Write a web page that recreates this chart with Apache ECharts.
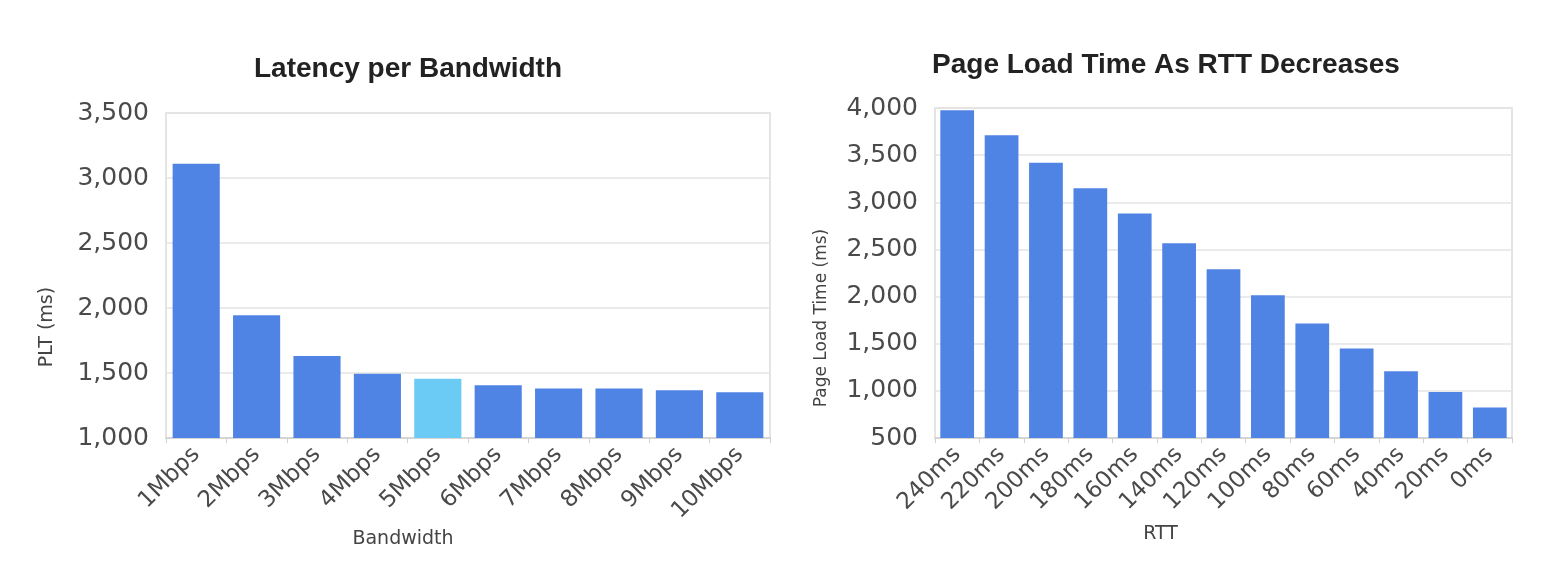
<!DOCTYPE html>
<html>
<head>
<meta charset="utf-8">
<script src="https://cdn.jsdelivr.net/npm/echarts@6/dist/echarts.min.js"></script>
<style>
html,body{margin:0;padding:0;background:#fff;}
#main{width:1560px;height:580px;}
</style>
</head>
<body>
<div id="main"></div>
<script>
// ---- data ----
const bwCategories = ['1Mbps','2Mbps','3Mbps','4Mbps','5Mbps','6Mbps','7Mbps','8Mbps','9Mbps','10Mbps'];
const bwValues = [3110, 1945, 1630, 1495, 1455, 1405, 1380, 1380, 1368, 1352];
const bwHighlightIndex = 4;
const rttCategories = ['240ms','220ms','200ms','180ms','160ms','140ms','120ms','100ms','80ms','60ms','40ms','20ms','0ms'];
const rttValues = [3975, 3710, 3418, 3150, 2880, 2565, 2290, 2015, 1715, 1448, 1208, 988, 823];

const leftTitle = 'Latency per Bandwidth';
const rightTitle = 'Page Load Time As RTT Decreases';
const leftYName = 'PLT (ms)';
const leftXName = 'Bandwidth';
const rightYName = 'Page Load Time (ms)';
const rightXName = 'RTT';

// ---- styles ----
const BAR = '#4F83E4';
const BAR_HL = '#6CCBF4';
const FONT = 'DejaVu Sans';
const fmt = v => Number(v).toLocaleString('en-US');

const chart = echarts.init(document.getElementById('main'), null, {renderer:'canvas'});

function yAxis(idx, min, max) {
  return {
    type: 'value', gridIndex: idx, min: min, max: max, interval: 500,
    axisLine: {show: false},
    axisTick: {show: false},
    axisLabel: {formatter: fmt, fontFamily: FONT, fontSize: 25, color: '#4a4a4a', margin: 17},
    splitLine: {lineStyle: {color: '#e4e4e4', width: 1.5}}
  };
}
function xAxis(idx, cats, name, shift) {
  return {
    type: 'category', gridIndex: idx, data: cats,
    name: name, nameLocation: 'middle', nameGap: 87,
    nameTextStyle: {fontFamily: FONT, fontSize: 19, color: '#444', verticalAlign: 'top', padding: [0, shift * 2, 0, 0]},
    axisLine: {lineStyle: {color: '#cfcfcf', width: 1.5}},
    axisTick: {show: true, length: 5, lineStyle: {color: '#cfcfcf'}},
    axisLabel: {rotate: 45, fontFamily: FONT, fontSize: 23, color: '#4a4a4a', margin: 13, interval: 0}
  };
}

chart.setOption({
  animation: false,
  title: [
    {text: leftTitle, left: 403, top: 50, textAlign: 'center',
     textStyle: {fontFamily: 'Liberation Sans', fontWeight: 'bold', fontSize: 28, color: '#222'}},
    {text: rightTitle, left: 1161, top: 46, textAlign: 'center',
     textStyle: {fontFamily: 'Liberation Sans', fontWeight: 'bold', fontSize: 28, color: '#222'}}
  ],
  grid: [
    {left: 166, right: 790, top: 113, bottom: 142, show: true, borderColor: '#dcdcdc', borderWidth: 1.5, backgroundColor: 'transparent'},
    {left: 935, right: 48, top: 108, bottom: 142, show: true, borderColor: '#dcdcdc', borderWidth: 1.5, backgroundColor: 'transparent'}
  ],
  xAxis: [xAxis(0, bwCategories, leftXName, 65), xAxis(1, rttCategories, rightXName, 63)],
  yAxis: [yAxis(0, 1000, 3500), yAxis(1, 500, 4000)],
  series: [
    {type: 'bar', xAxisIndex: 0, yAxisIndex: 0, barCategoryGap: '22%',
     data: bwValues.map((v, i) => ({value: v, itemStyle: {color: i === bwHighlightIndex ? BAR_HL : BAR}}))},
    {type: 'bar', xAxisIndex: 1, yAxisIndex: 1, barCategoryGap: '24%',
     itemStyle: {color: BAR}, data: rttValues}
  ],
  graphic: [
    {type: 'text', x: 47, y: 327, rotation: Math.PI/2,
     style: {text: leftYName, font: '19px "DejaVu Sans"', fill: '#444', align: 'center', verticalAlign: 'middle'}},
    {type: 'text', x: 822, y: 318, rotation: Math.PI/2,
     style: {text: rightYName, font: '17px "DejaVu Sans"', fill: '#444', align: 'center', verticalAlign: 'middle'}}
  ]
});
</script>
</body>
</html>
